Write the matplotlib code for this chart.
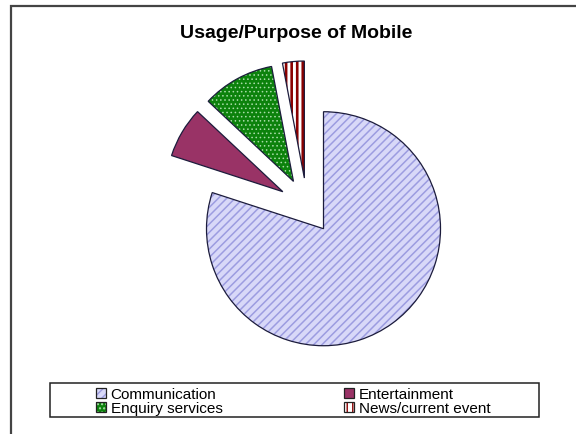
import matplotlib.pyplot as plt
from matplotlib.patches import Rectangle, Patch

# Survey shares (%) for each use of the phone
categories = ["Communication", "Entertainment", "Enquiry services", "News/current event"]
shares = [80, 7, 10, 3]
explode = [0.24, 0.24, 0.24, 0.24]

fill_colors = ["#d8d8f8", "#993366", "#0c820c", "#ffffff"]
hatch_colors = ["#9c9ce0", "#993366", "#a8dca8", "#8b0000"]
hatches = ["////", None, "....", "|||"]
hatch_widths = [1.1, 1.0, 0.6, 1.9]

plt.rcParams["font.family"] = ["Liberation Sans", "DejaVu Sans"]

W, H = 576, 435
fig = plt.figure(figsize=(W / 100, H / 100), dpi=100)

# chart area border (runs off the right and bottom edges)
fig.patches.append(Rectangle((11 / W, -0.1), 1.2, 1.1 - 7 / H, transform=fig.transFigure,
                             fill=False, edgecolor="#444444", linewidth=1.6))

fig.text(296 / W, 1 - 33 / H, "Usage/Purpose of Mobile", ha="center", va="center",
         fontsize=14, fontweight="bold")

# pie axes: square box centred on the pie centre
cx, cy, r = 307, 207, 117
half = 200
ax = fig.add_axes([(cx - half) / W, 1 - (cy + half) / H, 2 * half / W, 2 * half / H])

wedges, _ = ax.pie(shares, explode=explode, startangle=90, counterclock=False,
                   colors=fill_colors, wedgeprops=dict(linewidth=0))
for w, hc, h, hw in zip(wedges, hatch_colors, hatches, hatch_widths):
    w.set_edgecolor(hc)
    if h:
        w.set_hatch(h)
        if hasattr(w, "set_hatch_linewidth"):
            w.set_hatch_linewidth(hw)

outlines, _ = ax.pie(shares, explode=explode, startangle=90, counterclock=False,
                     wedgeprops=dict(fill=False, edgecolor="#1c1c3c", linewidth=0.9))

lim = half / r
ax.set_xlim(-lim, lim)
ax.set_ylim(-lim, lim)
ax.set_aspect("equal")
ax.axis("off")

# legend box
fig.patches.append(Rectangle((50 / W, 1 - 418 / H), 489 / W, 34 / H, transform=fig.transFigure,
                             fill=False, edgecolor="#222222", linewidth=1.1))

handles = []
for fc, hc, h, hw in zip(fill_colors, hatch_colors, hatches, hatch_widths):
    p = Patch(facecolor=fc, edgecolor=hc, hatch=h, linewidth=0)
    if h and hasattr(p, "set_hatch_linewidth"):
        p.set_hatch_linewidth(hw)
    border = Patch(fill=False, edgecolor="#222222", linewidth=0.9)
    handles.append((p, border))

for col, (x0, idx) in enumerate([(96, [0, 2]), (344, [1, 3])]):
    leg = fig.legend([handles[i] for i in idx], [categories[i] for i in idx],
                     loc="upper left", bbox_to_anchor=(x0 / W, 1 - 388 / H),
                     frameon=False, fontsize=11, handlelength=0.65, handleheight=0.65,
                     handletextpad=0.3, labelspacing=0.0, borderpad=0, borderaxespad=0)

fig.savefig("out.png", dpi=100)
